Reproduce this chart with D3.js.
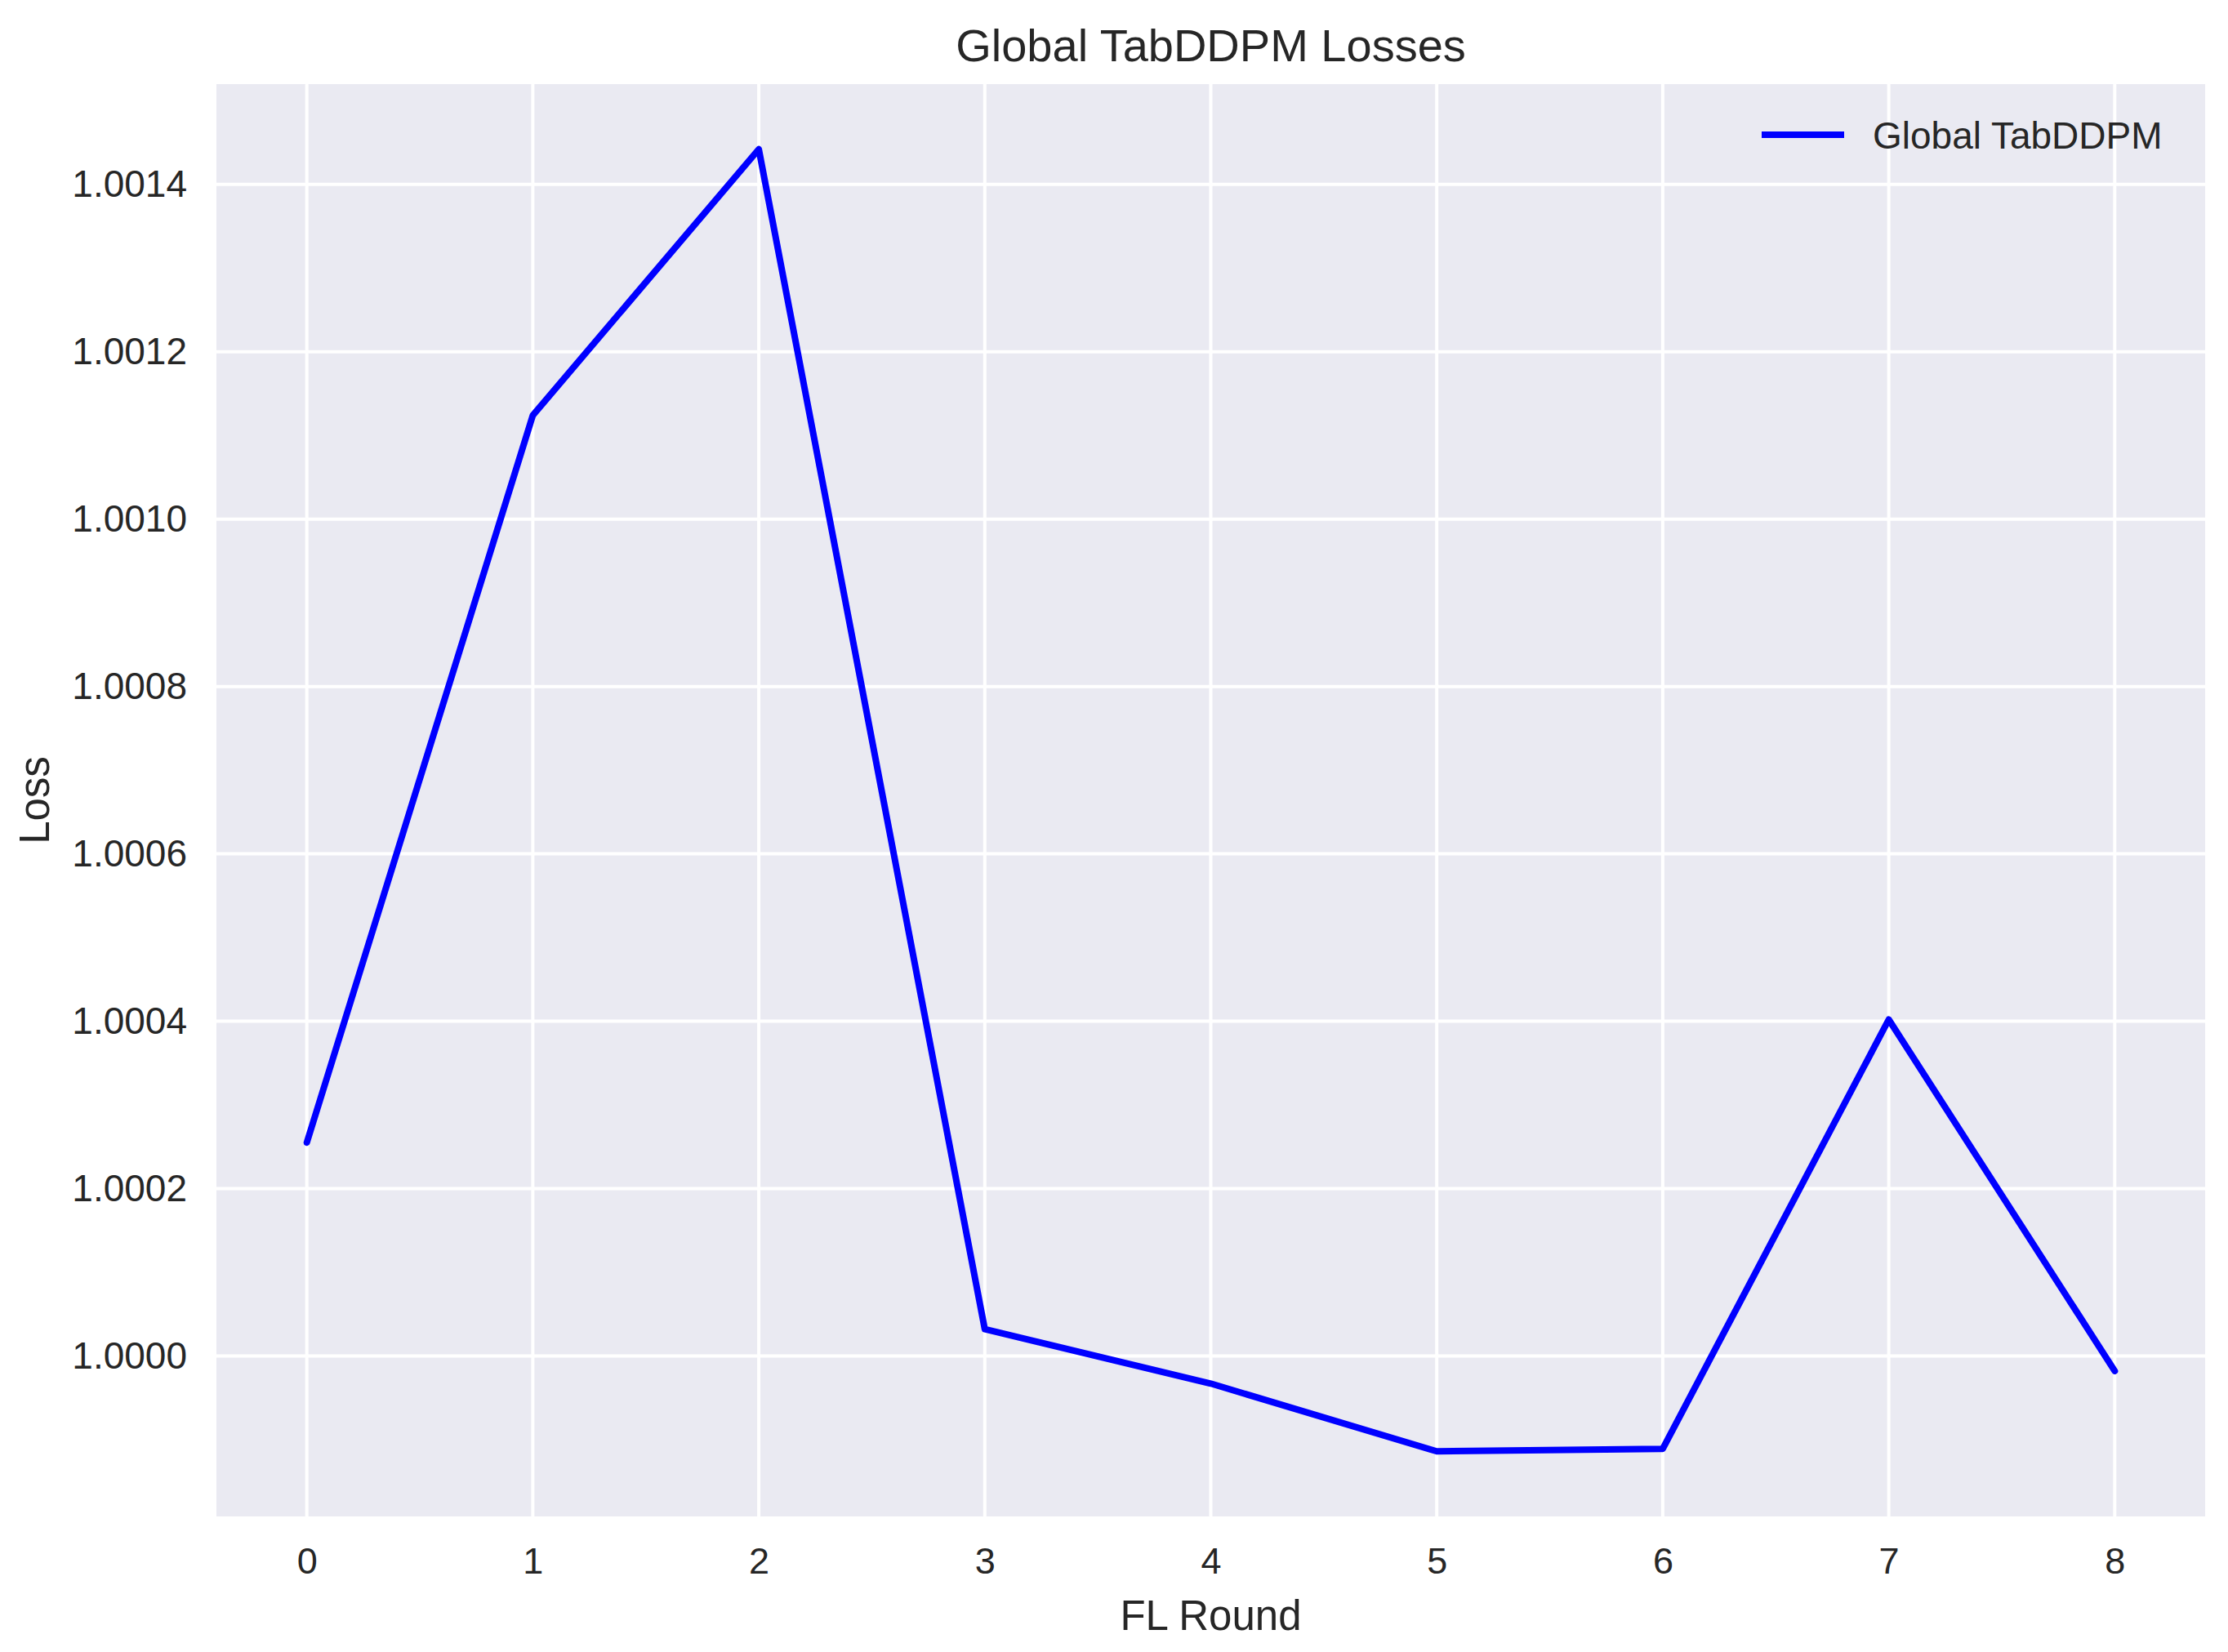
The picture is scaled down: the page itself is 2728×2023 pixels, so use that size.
<!DOCTYPE html>
<html>
<head>
<meta charset="utf-8">
<script src="https://cdn.jsdelivr.net/npm/d3@7"></script>
<style>
  body { margin: 0; background: #fff; }
  text { font-family: "Liberation Sans", Arial, sans-serif; fill: #262626; }
</style>
</head>
<body>
<div id="chart"></div>
<script>
// data
let rounds = [0, 1, 2, 3, 4, 5, 6, 7, 8];
let losses = [1.000255, 1.001124, 1.001442, 1.000032, 0.999967, 0.999886, 0.999889, 1.000402, 0.999982];
let yTicks = [1.0000, 1.0002, 1.0004, 1.0006, 1.0008, 1.0010, 1.0012, 1.0014];
let seriesName = "Global TabDDPM";

(function() {
  let W = 2728, H = 2023;
  let margin = { top: 103, right: 28, bottom: 166, left: 265 };
  let width = W - margin.left - margin.right,
      height = H - margin.top - margin.bottom;

  let svg = d3.select("#chart")
    .append("svg")
      .attr("width", W)
      .attr("height", H);

  let g = svg.append("g")
    .attr("transform", "translate(" + margin.left + "," + margin.top + ")");

  // matplotlib style 5% margins
  let xPad = (d3.max(rounds) - d3.min(rounds)) * 0.05;
  let yPad = (d3.max(losses) - d3.min(losses)) * 0.05;

  let xScale = d3.scaleLinear()
    .domain([d3.min(rounds) - xPad, d3.max(rounds) + xPad])
    .range([0, width]);

  let yScale = d3.scaleLinear()
    .domain([d3.min(losses) - yPad, d3.max(losses) + yPad])
    .range([height, 0]);

  // background
  g.append("rect")
    .attr("width", width)
    .attr("height", height)
    .attr("fill", "#EAEAF2");

  // grid
  g.append("g")
    .selectAll("line")
    .data(rounds)
    .enter().append("line")
      .attr("x1", d => xScale(d)).attr("x2", d => xScale(d))
      .attr("y1", 0).attr("y2", height)
      .attr("stroke", "#fff").attr("stroke-width", 4);

  g.append("g")
    .selectAll("line")
    .data(yTicks)
    .enter().append("line")
      .attr("y1", d => yScale(d)).attr("y2", d => yScale(d))
      .attr("x1", 0).attr("x2", width)
      .attr("stroke", "#fff").attr("stroke-width", 4);

  // axes (labels only)
  let xAxis = g.append("g")
    .attr("transform", "translate(0," + height + ")")
    .call(d3.axisBottom(xScale).tickValues(rounds).tickFormat(d3.format("d")).tickSize(0).tickPadding(38));
  xAxis.select(".domain").remove();
  xAxis.selectAll("text").style("font-size", "45px").attr("fill", "#262626");

  let yAxis = g.append("g")
    .call(d3.axisLeft(yScale).tickValues(yTicks).tickFormat(d3.format(".4f")).tickSize(0).tickPadding(36));
  yAxis.select(".domain").remove();
  yAxis.selectAll("text").style("font-size", "46px").attr("fill", "#262626");

  // line
  let line = d3.line()
    .x((d, i) => xScale(rounds[i]))
    .y(d => yScale(d));

  g.append("path")
    .datum(losses)
    .attr("d", line)
    .attr("fill", "none")
    .attr("stroke", "#0000FF")
    .attr("stroke-width", 8)
    .attr("stroke-linejoin", "round")
    .attr("stroke-linecap", "round");

  // legend
  let legend = svg.append("g")
    .attr("transform", "translate(2157,165)");
  legend.append("line")
    .attr("x1", 0).attr("x2", 101)
    .attr("y1", 0).attr("y2", 0)
    .attr("stroke", "#0000FF").attr("stroke-width", 8);
  legend.append("text")
    .attr("x", 136).attr("y", 17)
    .style("font-size", "46px")
    .text(seriesName);

  // title
  svg.append("text")
    .attr("x", margin.left + width / 2)
    .attr("y", 75)
    .attr("text-anchor", "middle")
    .style("font-size", "56px")
    .text("Global TabDDPM Losses");

  // x label
  svg.append("text")
    .attr("x", margin.left + width / 2)
    .attr("y", 1996)
    .attr("text-anchor", "middle")
    .style("font-size", "51px")
    .text("FL Round");

  // y label
  svg.append("text")
    .attr("transform", "translate(60," + (margin.top + height / 2) + ") rotate(-90)")
    .attr("text-anchor", "middle")
    .style("font-size", "51px")
    .text("Loss");
})();
</script>
</body>
</html>
